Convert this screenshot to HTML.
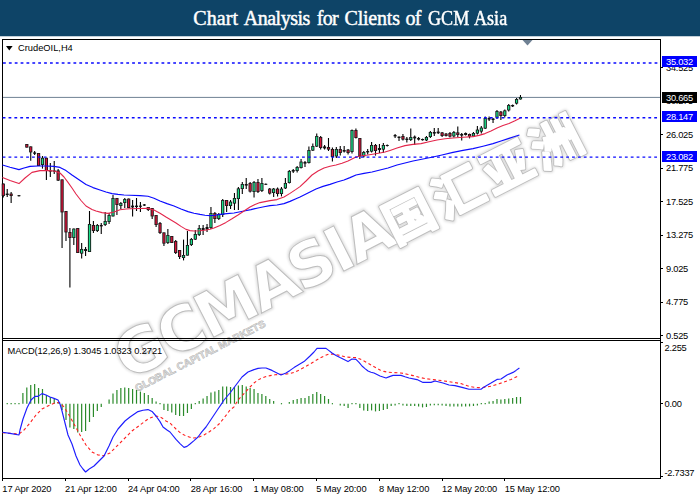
<!DOCTYPE html>
<html lang="en"><head><meta charset="utf-8"><title>Chart Analysis for Clients of GCM Asia</title>
<style>
html,body{margin:0;padding:0;background:#fff;}
body{width:700px;height:500px;overflow:hidden;position:relative;font-family:"Liberation Sans","Noto Sans CJK SC",sans-serif;}
#hdr{position:absolute;left:0;top:0;width:700px;height:36px;background:#0e4467;color:#fff;
 font-family:"Liberation Serif","Noto Serif CJK SC",serif;font-size:20px;line-height:36px;text-align:center;white-space:nowrap;}
#hdr span{position:absolute;top:0;display:inline-block;transform-origin:0 0;-webkit-text-stroke:0.45px #fff;}
svg{position:absolute;left:0;top:0;}
svg text{font-family:"Liberation Sans","Noto Sans CJK SC",sans-serif;}
.ax{font-size:9.3px;fill:#000;}
.pr{letter-spacing:-0.25px;}
.dt{letter-spacing:-0.09px;}
.lb{font-size:9.3px;fill:#fff;}
</style></head><body>
<div id="hdr"><span style="left:193.30px;letter-spacing:0.10px">Chart</span> <span style="left:243.80px;letter-spacing:-0.50px">Analysis</span> <span style="left:316.70px;letter-spacing:-0.70px">for</span> <span style="left:344.50px;letter-spacing:-0.20px">Clients</span> <span style="left:405.40px;letter-spacing:-0.70px">of</span> <span style="left:427.90px;letter-spacing:0.00px;transform:scaleX(0.905)">GCM</span> <span style="left:473.60px;letter-spacing:0.00px;transform:scaleX(0.905)">Asia</span></div>
<svg width="700" height="500" viewBox="0 0 700 500">
<rect x="0" y="30" width="700" height="6.25" fill="#0e4467"/>
<defs><filter id="bl" x="-5%" y="-20%" width="110%" height="140%"><feGaussianBlur stdDeviation="0.9"/></filter></defs>
<g transform="translate(128,381) rotate(-27)" fill="none" stroke="#dedede" filter="url(#bl)"><g stroke-width="3"><text x="0" y="0" font-size="61.7" letter-spacing="-2.6" font-weight="bold" style="font-family:'DejaVu Sans','Noto Sans CJK SC',sans-serif">GCMASIA</text></g><g stroke-width="5.5" stroke-linejoin="round" stroke-linecap="round"><text x="300" y="0" font-size="50" letter-spacing="5" font-weight="700" style="font-family:'Liberation Sans','Noto Sans CJK SC',sans-serif">国汇亚洲</text></g></g>
<g id="wm" transform="translate(128,381) rotate(-27)" fill="#fff" stroke="#bdbdbd" stroke-width="1"><text x="0" y="0" font-size="61.7" letter-spacing="-2.6" font-weight="bold" style="font-family:'DejaVu Sans','Noto Sans CJK SC',sans-serif">GCMASIA</text></g>
<g transform="translate(128,381) rotate(-27)" fill="#bdbdbd" stroke="#bdbdbd" stroke-width="3.8" stroke-linejoin="round" stroke-linecap="round"><text x="300" y="0" font-size="50" letter-spacing="5" font-weight="700" style="font-family:'Liberation Sans','Noto Sans CJK SC',sans-serif">国汇亚洲</text></g>
<g transform="translate(128,381) rotate(-27)" fill="#fff" stroke="#fff" stroke-width="2.0" stroke-linejoin="round" stroke-linecap="round"><text x="300" y="0" font-size="50" letter-spacing="5" font-weight="700" style="font-family:'Liberation Sans','Noto Sans CJK SC',sans-serif">国汇亚洲</text></g>
<g transform="translate(137.3,392) rotate(-27)"><text x="0" y="0" font-size="10.4" font-weight="bold" fill="#e6e6e6" stroke="#b4b4b4" stroke-width="0.55">GLOBAL CAPITAL MARKETS</text></g>
<g shape-rendering="crispEdges" fill="#000">
<rect x="2" y="39" width="659" height="1"/>
<rect x="2" y="39" width="1" height="440"/>
<rect x="660" y="39" width="1" height="440"/>
<rect x="2" y="338" width="659" height="1"/>
<rect x="2" y="340" width="659" height="1"/>
<rect x="2" y="478" width="659" height="1"/>
<rect x="661" y="67" width="2" height="1"/>
<rect x="661" y="134" width="2" height="1"/>
<rect x="661" y="168" width="2" height="1"/>
<rect x="661" y="201" width="2" height="1"/>
<rect x="661" y="235" width="2" height="1"/>
<rect x="661" y="268" width="2" height="1"/>
<rect x="661" y="302" width="2" height="1"/>
<rect x="661" y="335" width="2" height="1"/>
<rect x="661" y="342" width="2" height="1"/>
<rect x="661" y="403" width="2" height="1"/>
<rect x="661" y="476" width="2" height="1"/>
<rect x="2" y="479" width="1" height="2"/>
<rect x="65" y="479" width="1" height="2"/>
<rect x="128" y="479" width="1" height="2"/>
<rect x="190" y="479" width="1" height="2"/>
<rect x="253" y="479" width="1" height="2"/>
<rect x="316" y="479" width="1" height="2"/>
<rect x="379" y="479" width="1" height="2"/>
<rect x="442" y="479" width="1" height="2"/>
<rect x="504" y="479" width="1" height="2"/>
</g>
<polygon points="522.5,40 532.5,40 527.5,45.5" fill="#6f8193"/>
<line x1="3" y1="97.4" x2="660" y2="97.4" stroke="#6f8193" stroke-width="1"/>
<g id="candles">
<line x1="3.30" y1="183.6" x2="3.30" y2="197.6" stroke="#000" stroke-width="1.1"/>
<rect x="1.70" y="183.6" width="3.2" height="12.4" fill="#161616"/>
<rect x="2.60" y="184.4" width="1.4" height="10.8" fill="#d9143a"/>
<line x1="7.22" y1="189.0" x2="7.22" y2="197.0" stroke="#000" stroke-width="1.1"/>
<rect x="5.72" y="193.6" width="3" height="1.4" fill="#111"/>
<line x1="11.14" y1="192.0" x2="11.14" y2="203.0" stroke="#000" stroke-width="1.1"/>
<rect x="9.54" y="193.6" width="3.2" height="2.4" fill="#161616"/>
<rect x="10.44" y="194.4" width="1.4" height="0.8" fill="#d9143a"/>
<line x1="18.97" y1="195.0" x2="18.97" y2="196.4" stroke="#000" stroke-width="1.1"/>
<rect x="17.47" y="195.2" width="3" height="1.0" fill="#111"/>
<line x1="26.81" y1="144.0" x2="26.81" y2="147.6" stroke="#000" stroke-width="1.1"/>
<rect x="25.21" y="144.0" width="3.2" height="3.6" fill="#161616"/>
<rect x="26.11" y="144.8" width="1.4" height="2.0" fill="#d9143a"/>
<line x1="30.73" y1="146.4" x2="30.73" y2="160.8" stroke="#000" stroke-width="1.1"/>
<rect x="29.13" y="146.4" width="3.2" height="6.0" fill="#161616"/>
<rect x="30.03" y="147.2" width="1.4" height="4.4" fill="#d9143a"/>
<line x1="34.64" y1="151.0" x2="34.64" y2="155.0" stroke="#000" stroke-width="1.1"/>
<rect x="33.14" y="152.4" width="3" height="1.4" fill="#111"/>
<line x1="38.56" y1="153.0" x2="38.56" y2="166.0" stroke="#000" stroke-width="1.1"/>
<rect x="36.96" y="153.0" width="3.2" height="13.0" fill="#161616"/>
<rect x="37.86" y="153.8" width="1.4" height="11.4" fill="#d9143a"/>
<line x1="42.48" y1="156.0" x2="42.48" y2="168.6" stroke="#000" stroke-width="1.1"/>
<rect x="40.88" y="157.8" width="3.2" height="7.2" fill="#161616"/>
<rect x="41.78" y="158.6" width="1.4" height="5.6" fill="#19e08a"/>
<line x1="46.40" y1="157.8" x2="46.40" y2="180.0" stroke="#000" stroke-width="1.1"/>
<rect x="44.80" y="157.8" width="3.2" height="13.2" fill="#161616"/>
<rect x="45.70" y="158.6" width="1.4" height="11.6" fill="#d9143a"/>
<line x1="50.32" y1="163.0" x2="50.32" y2="177.0" stroke="#000" stroke-width="1.1"/>
<rect x="48.82" y="170.4" width="3" height="1.2" fill="#111"/>
<line x1="54.23" y1="161.0" x2="54.23" y2="174.0" stroke="#000" stroke-width="1.1"/>
<rect x="52.73" y="170.4" width="3" height="1.2" fill="#111"/>
<line x1="58.15" y1="169.0" x2="58.15" y2="181.0" stroke="#000" stroke-width="1.1"/>
<rect x="56.55" y="170.4" width="3.2" height="10.2" fill="#161616"/>
<rect x="57.45" y="171.2" width="1.4" height="8.6" fill="#d9143a"/>
<line x1="62.07" y1="179.4" x2="62.07" y2="248.0" stroke="#000" stroke-width="1.1"/>
<rect x="60.47" y="179.4" width="3.2" height="33.0" fill="#161616"/>
<rect x="61.37" y="180.2" width="1.4" height="31.4" fill="#d9143a"/>
<line x1="65.99" y1="211.0" x2="65.99" y2="241.0" stroke="#000" stroke-width="1.1"/>
<rect x="64.39" y="211.0" width="3.2" height="21.4" fill="#161616"/>
<rect x="65.29" y="211.8" width="1.4" height="19.8" fill="#d9143a"/>
<line x1="69.91" y1="228.0" x2="69.91" y2="287.6" stroke="#000" stroke-width="1.1"/>
<rect x="68.31" y="232.0" width="3.2" height="6.0" fill="#161616"/>
<rect x="69.21" y="232.8" width="1.4" height="4.4" fill="#d9143a"/>
<line x1="73.82" y1="228.6" x2="73.82" y2="245.0" stroke="#000" stroke-width="1.1"/>
<rect x="72.22" y="228.6" width="3.2" height="9.4" fill="#161616"/>
<rect x="73.12" y="229.4" width="1.4" height="7.8" fill="#19e08a"/>
<line x1="77.74" y1="228.0" x2="77.74" y2="253.0" stroke="#000" stroke-width="1.1"/>
<rect x="76.14" y="228.0" width="3.2" height="25.0" fill="#161616"/>
<rect x="77.04" y="228.8" width="1.4" height="23.4" fill="#d9143a"/>
<line x1="81.66" y1="243.0" x2="81.66" y2="258.6" stroke="#000" stroke-width="1.1"/>
<rect x="80.06" y="249.0" width="3.2" height="4.6" fill="#161616"/>
<rect x="80.96" y="249.8" width="1.4" height="3.0" fill="#19e08a"/>
<line x1="85.58" y1="247.0" x2="85.58" y2="256.0" stroke="#000" stroke-width="1.1"/>
<rect x="84.08" y="249.0" width="3" height="2.0" fill="#111"/>
<line x1="89.50" y1="211.0" x2="89.50" y2="252.0" stroke="#000" stroke-width="1.1"/>
<rect x="87.90" y="224.0" width="3.2" height="28.0" fill="#161616"/>
<rect x="88.80" y="224.8" width="1.4" height="26.4" fill="#19e08a"/>
<line x1="93.41" y1="221.0" x2="93.41" y2="233.0" stroke="#000" stroke-width="1.1"/>
<rect x="91.81" y="225.0" width="3.2" height="6.0" fill="#161616"/>
<rect x="92.71" y="225.8" width="1.4" height="4.4" fill="#d9143a"/>
<line x1="97.33" y1="224.0" x2="97.33" y2="232.0" stroke="#000" stroke-width="1.1"/>
<rect x="95.73" y="225.0" width="3.2" height="6.0" fill="#161616"/>
<rect x="96.63" y="225.8" width="1.4" height="4.4" fill="#19e08a"/>
<line x1="101.25" y1="223.0" x2="101.25" y2="234.0" stroke="#000" stroke-width="1.1"/>
<rect x="99.75" y="225.0" width="3" height="1.4" fill="#111"/>
<line x1="105.17" y1="212.0" x2="105.17" y2="226.0" stroke="#000" stroke-width="1.1"/>
<rect x="103.57" y="221.0" width="3.2" height="4.0" fill="#161616"/>
<rect x="104.47" y="221.8" width="1.4" height="2.4" fill="#19e08a"/>
<line x1="109.09" y1="213.0" x2="109.09" y2="224.0" stroke="#000" stroke-width="1.1"/>
<rect x="107.49" y="215.0" width="3.2" height="7.0" fill="#161616"/>
<rect x="108.39" y="215.8" width="1.4" height="5.4" fill="#19e08a"/>
<line x1="113.00" y1="195.0" x2="113.00" y2="216.4" stroke="#000" stroke-width="1.1"/>
<rect x="111.40" y="198.0" width="3.2" height="18.4" fill="#161616"/>
<rect x="112.30" y="198.8" width="1.4" height="16.8" fill="#19e08a"/>
<line x1="116.92" y1="198.0" x2="116.92" y2="215.0" stroke="#000" stroke-width="1.1"/>
<rect x="115.32" y="198.0" width="3.2" height="7.0" fill="#161616"/>
<rect x="116.22" y="198.8" width="1.4" height="5.4" fill="#d9143a"/>
<line x1="120.84" y1="202.0" x2="120.84" y2="209.0" stroke="#000" stroke-width="1.1"/>
<rect x="119.24" y="203.0" width="3.2" height="3.0" fill="#161616"/>
<rect x="120.14" y="203.8" width="1.4" height="1.4" fill="#19e08a"/>
<line x1="124.76" y1="198.0" x2="124.76" y2="208.0" stroke="#000" stroke-width="1.1"/>
<rect x="123.16" y="199.0" width="3.2" height="4.0" fill="#161616"/>
<rect x="124.06" y="199.8" width="1.4" height="2.4" fill="#19e08a"/>
<line x1="128.68" y1="198.6" x2="128.68" y2="208.0" stroke="#000" stroke-width="1.1"/>
<rect x="127.08" y="198.6" width="3.2" height="9.4" fill="#161616"/>
<rect x="127.98" y="199.4" width="1.4" height="7.8" fill="#d9143a"/>
<line x1="132.59" y1="200.0" x2="132.59" y2="216.4" stroke="#000" stroke-width="1.1"/>
<rect x="131.09" y="205.6" width="3" height="1.8" fill="#111"/>
<line x1="136.51" y1="198.0" x2="136.51" y2="211.0" stroke="#000" stroke-width="1.1"/>
<rect x="135.01" y="205.6" width="3" height="1.4" fill="#111"/>
<line x1="140.43" y1="202.0" x2="140.43" y2="212.0" stroke="#000" stroke-width="1.1"/>
<rect x="138.93" y="205.6" width="3" height="1.2" fill="#111"/>
<line x1="144.35" y1="204.0" x2="144.35" y2="206.0" stroke="#000" stroke-width="1.1"/>
<rect x="142.85" y="204.4" width="3" height="1.2" fill="#111"/>
<line x1="148.27" y1="207.0" x2="148.27" y2="211.0" stroke="#000" stroke-width="1.1"/>
<rect x="146.67" y="207.0" width="3.2" height="3.0" fill="#161616"/>
<rect x="147.57" y="207.8" width="1.4" height="1.4" fill="#d9143a"/>
<line x1="152.18" y1="208.0" x2="152.18" y2="219.0" stroke="#000" stroke-width="1.1"/>
<rect x="150.58" y="208.0" width="3.2" height="8.4" fill="#161616"/>
<rect x="151.48" y="208.8" width="1.4" height="6.8" fill="#d9143a"/>
<line x1="156.10" y1="215.0" x2="156.10" y2="227.0" stroke="#000" stroke-width="1.1"/>
<rect x="154.50" y="215.0" width="3.2" height="10.0" fill="#161616"/>
<rect x="155.40" y="215.8" width="1.4" height="8.4" fill="#d9143a"/>
<line x1="160.02" y1="222.0" x2="160.02" y2="234.0" stroke="#000" stroke-width="1.1"/>
<rect x="158.42" y="223.0" width="3.2" height="10.0" fill="#161616"/>
<rect x="159.32" y="223.8" width="1.4" height="8.4" fill="#d9143a"/>
<line x1="163.94" y1="232.4" x2="163.94" y2="246.0" stroke="#000" stroke-width="1.1"/>
<rect x="162.34" y="232.4" width="3.2" height="11.2" fill="#161616"/>
<rect x="163.24" y="233.2" width="1.4" height="9.6" fill="#d9143a"/>
<line x1="167.86" y1="229.0" x2="167.86" y2="244.0" stroke="#000" stroke-width="1.1"/>
<rect x="166.26" y="235.0" width="3.2" height="8.0" fill="#161616"/>
<rect x="167.16" y="235.8" width="1.4" height="6.4" fill="#19e08a"/>
<line x1="171.77" y1="236.0" x2="171.77" y2="243.0" stroke="#000" stroke-width="1.1"/>
<rect x="170.17" y="236.0" width="3.2" height="7.0" fill="#161616"/>
<rect x="171.07" y="236.8" width="1.4" height="5.4" fill="#d9143a"/>
<line x1="175.69" y1="240.0" x2="175.69" y2="254.0" stroke="#000" stroke-width="1.1"/>
<rect x="174.09" y="241.0" width="3.2" height="12.0" fill="#161616"/>
<rect x="174.99" y="241.8" width="1.4" height="10.4" fill="#d9143a"/>
<line x1="179.61" y1="250.0" x2="179.61" y2="259.0" stroke="#000" stroke-width="1.1"/>
<rect x="178.01" y="250.0" width="3.2" height="7.0" fill="#161616"/>
<rect x="178.91" y="250.8" width="1.4" height="5.4" fill="#d9143a"/>
<line x1="183.53" y1="239.6" x2="183.53" y2="260.4" stroke="#000" stroke-width="1.1"/>
<rect x="181.93" y="255.0" width="3.2" height="3.0" fill="#161616"/>
<rect x="182.83" y="255.8" width="1.4" height="1.4" fill="#19e08a"/>
<line x1="187.45" y1="231.0" x2="187.45" y2="255.6" stroke="#000" stroke-width="1.1"/>
<rect x="185.85" y="245.0" width="3.2" height="10.6" fill="#161616"/>
<rect x="186.75" y="245.8" width="1.4" height="9.0" fill="#19e08a"/>
<line x1="191.36" y1="238.0" x2="191.36" y2="246.0" stroke="#000" stroke-width="1.1"/>
<rect x="189.76" y="239.0" width="3.2" height="6.0" fill="#161616"/>
<rect x="190.66" y="239.8" width="1.4" height="4.4" fill="#19e08a"/>
<line x1="195.28" y1="230.0" x2="195.28" y2="240.0" stroke="#000" stroke-width="1.1"/>
<rect x="193.68" y="234.0" width="3.2" height="5.6" fill="#161616"/>
<rect x="194.58" y="234.8" width="1.4" height="4.0" fill="#19e08a"/>
<line x1="199.20" y1="225.0" x2="199.20" y2="236.0" stroke="#000" stroke-width="1.1"/>
<rect x="197.60" y="228.0" width="3.2" height="7.0" fill="#161616"/>
<rect x="198.50" y="228.8" width="1.4" height="5.4" fill="#19e08a"/>
<line x1="203.12" y1="225.0" x2="203.12" y2="235.0" stroke="#000" stroke-width="1.1"/>
<rect x="201.62" y="228.0" width="3" height="2.0" fill="#111"/>
<line x1="207.04" y1="224.0" x2="207.04" y2="232.0" stroke="#000" stroke-width="1.1"/>
<rect x="205.54" y="227.0" width="3" height="2.6" fill="#111"/>
<line x1="210.95" y1="207.0" x2="210.95" y2="229.0" stroke="#000" stroke-width="1.1"/>
<rect x="209.35" y="213.0" width="3.2" height="15.0" fill="#161616"/>
<rect x="210.25" y="213.8" width="1.4" height="13.4" fill="#19e08a"/>
<line x1="214.87" y1="212.0" x2="214.87" y2="223.0" stroke="#000" stroke-width="1.1"/>
<rect x="213.27" y="213.0" width="3.2" height="6.0" fill="#161616"/>
<rect x="214.17" y="213.8" width="1.4" height="4.4" fill="#d9143a"/>
<line x1="218.79" y1="213.0" x2="218.79" y2="220.0" stroke="#000" stroke-width="1.1"/>
<rect x="217.19" y="214.0" width="3.2" height="5.0" fill="#161616"/>
<rect x="218.09" y="214.8" width="1.4" height="3.4" fill="#19e08a"/>
<line x1="222.71" y1="199.0" x2="222.71" y2="217.0" stroke="#000" stroke-width="1.1"/>
<rect x="221.11" y="200.0" width="3.2" height="15.0" fill="#161616"/>
<rect x="222.01" y="200.8" width="1.4" height="13.4" fill="#19e08a"/>
<line x1="226.63" y1="200.0" x2="226.63" y2="212.0" stroke="#000" stroke-width="1.1"/>
<rect x="225.03" y="200.0" width="3.2" height="6.0" fill="#161616"/>
<rect x="225.93" y="200.8" width="1.4" height="4.4" fill="#d9143a"/>
<line x1="230.54" y1="200.0" x2="230.54" y2="209.0" stroke="#000" stroke-width="1.1"/>
<rect x="228.94" y="201.6" width="3.2" height="4.4" fill="#161616"/>
<rect x="229.84" y="202.4" width="1.4" height="2.8" fill="#19e08a"/>
<line x1="234.46" y1="193.0" x2="234.46" y2="210.0" stroke="#000" stroke-width="1.1"/>
<rect x="232.86" y="198.0" width="3.2" height="5.6" fill="#161616"/>
<rect x="233.76" y="198.8" width="1.4" height="4.0" fill="#19e08a"/>
<line x1="238.38" y1="187.0" x2="238.38" y2="210.0" stroke="#000" stroke-width="1.1"/>
<rect x="236.78" y="188.4" width="3.2" height="10.6" fill="#161616"/>
<rect x="237.68" y="189.2" width="1.4" height="9.0" fill="#19e08a"/>
<line x1="242.30" y1="182.0" x2="242.30" y2="194.0" stroke="#000" stroke-width="1.1"/>
<rect x="240.70" y="184.0" width="3.2" height="5.0" fill="#161616"/>
<rect x="241.60" y="184.8" width="1.4" height="3.4" fill="#19e08a"/>
<line x1="246.22" y1="178.0" x2="246.22" y2="189.0" stroke="#000" stroke-width="1.1"/>
<rect x="244.72" y="184.0" width="3" height="1.6" fill="#111"/>
<line x1="250.13" y1="182.0" x2="250.13" y2="192.4" stroke="#000" stroke-width="1.1"/>
<rect x="248.53" y="183.0" width="3.2" height="8.6" fill="#161616"/>
<rect x="249.43" y="183.8" width="1.4" height="7.0" fill="#d9143a"/>
<line x1="254.05" y1="181.0" x2="254.05" y2="197.6" stroke="#000" stroke-width="1.1"/>
<rect x="252.45" y="182.0" width="3.2" height="10.0" fill="#161616"/>
<rect x="253.35" y="182.8" width="1.4" height="8.4" fill="#19e08a"/>
<line x1="257.97" y1="179.0" x2="257.97" y2="193.0" stroke="#000" stroke-width="1.1"/>
<rect x="256.37" y="182.0" width="3.2" height="10.0" fill="#161616"/>
<rect x="257.27" y="182.8" width="1.4" height="8.4" fill="#d9143a"/>
<line x1="261.89" y1="178.0" x2="261.89" y2="192.0" stroke="#000" stroke-width="1.1"/>
<rect x="260.29" y="183.0" width="3.2" height="8.0" fill="#161616"/>
<rect x="261.19" y="183.8" width="1.4" height="6.4" fill="#19e08a"/>
<line x1="265.81" y1="183.6" x2="265.81" y2="185.0" stroke="#000" stroke-width="1.1"/>
<rect x="264.31" y="183.8" width="3" height="1.0" fill="#111"/>
<line x1="269.72" y1="188.0" x2="269.72" y2="194.4" stroke="#000" stroke-width="1.1"/>
<rect x="268.12" y="188.6" width="3.2" height="5.0" fill="#161616"/>
<rect x="269.02" y="189.4" width="1.4" height="3.4" fill="#d9143a"/>
<line x1="273.64" y1="188.0" x2="273.64" y2="197.0" stroke="#000" stroke-width="1.1"/>
<rect x="272.04" y="188.6" width="3.2" height="4.4" fill="#161616"/>
<rect x="272.94" y="189.4" width="1.4" height="2.8" fill="#19e08a"/>
<line x1="277.56" y1="187.6" x2="277.56" y2="196.4" stroke="#000" stroke-width="1.1"/>
<rect x="275.96" y="188.6" width="3.2" height="5.4" fill="#161616"/>
<rect x="276.86" y="189.4" width="1.4" height="3.8" fill="#d9143a"/>
<line x1="281.48" y1="187.0" x2="281.48" y2="196.4" stroke="#000" stroke-width="1.1"/>
<rect x="279.88" y="188.6" width="3.2" height="5.4" fill="#161616"/>
<rect x="280.78" y="189.4" width="1.4" height="3.8" fill="#19e08a"/>
<line x1="285.40" y1="178.0" x2="285.40" y2="189.0" stroke="#000" stroke-width="1.1"/>
<rect x="283.80" y="183.0" width="3.2" height="5.4" fill="#161616"/>
<rect x="284.70" y="183.8" width="1.4" height="3.8" fill="#19e08a"/>
<line x1="289.31" y1="170.0" x2="289.31" y2="183.6" stroke="#000" stroke-width="1.1"/>
<rect x="287.71" y="171.0" width="3.2" height="12.0" fill="#161616"/>
<rect x="288.61" y="171.8" width="1.4" height="10.4" fill="#19e08a"/>
<line x1="293.23" y1="169.0" x2="293.23" y2="173.0" stroke="#000" stroke-width="1.1"/>
<rect x="291.73" y="170.0" width="3" height="1.6" fill="#111"/>
<line x1="297.15" y1="166.0" x2="297.15" y2="172.4" stroke="#000" stroke-width="1.1"/>
<rect x="295.55" y="167.0" width="3.2" height="4.0" fill="#161616"/>
<rect x="296.45" y="167.8" width="1.4" height="2.4" fill="#19e08a"/>
<line x1="301.07" y1="159.0" x2="301.07" y2="168.6" stroke="#000" stroke-width="1.1"/>
<rect x="299.47" y="161.6" width="3.2" height="6.4" fill="#161616"/>
<rect x="300.37" y="162.4" width="1.4" height="4.8" fill="#19e08a"/>
<line x1="304.99" y1="161.0" x2="304.99" y2="167.0" stroke="#000" stroke-width="1.1"/>
<rect x="303.49" y="162.0" width="3" height="1.6" fill="#111"/>
<line x1="308.90" y1="146.6" x2="308.90" y2="163.6" stroke="#000" stroke-width="1.1"/>
<rect x="307.30" y="150.0" width="3.2" height="13.0" fill="#161616"/>
<rect x="308.20" y="150.8" width="1.4" height="11.4" fill="#19e08a"/>
<line x1="312.82" y1="143.6" x2="312.82" y2="151.0" stroke="#000" stroke-width="1.1"/>
<rect x="311.22" y="146.0" width="3.2" height="4.6" fill="#161616"/>
<rect x="312.12" y="146.8" width="1.4" height="3.0" fill="#19e08a"/>
<line x1="316.74" y1="133.6" x2="316.74" y2="147.0" stroke="#000" stroke-width="1.1"/>
<rect x="315.14" y="136.0" width="3.2" height="10.6" fill="#161616"/>
<rect x="316.04" y="136.8" width="1.4" height="9.0" fill="#19e08a"/>
<line x1="320.66" y1="136.0" x2="320.66" y2="149.4" stroke="#000" stroke-width="1.1"/>
<rect x="319.06" y="137.0" width="3.2" height="11.0" fill="#161616"/>
<rect x="319.96" y="137.8" width="1.4" height="9.4" fill="#d9143a"/>
<line x1="324.58" y1="145.0" x2="324.58" y2="149.6" stroke="#000" stroke-width="1.1"/>
<rect x="323.08" y="146.4" width="3" height="2.0" fill="#111"/>
<line x1="328.49" y1="138.0" x2="328.49" y2="151.0" stroke="#000" stroke-width="1.1"/>
<rect x="326.89" y="147.0" width="3.2" height="2.6" fill="#161616"/>
<rect x="327.79" y="147.8" width="1.4" height="1.0" fill="#d9143a"/>
<line x1="332.41" y1="147.6" x2="332.41" y2="161.6" stroke="#000" stroke-width="1.1"/>
<rect x="330.81" y="149.0" width="3.2" height="8.0" fill="#161616"/>
<rect x="331.71" y="149.8" width="1.4" height="6.4" fill="#d9143a"/>
<line x1="336.33" y1="147.0" x2="336.33" y2="158.0" stroke="#000" stroke-width="1.1"/>
<rect x="334.73" y="149.0" width="3.2" height="7.4" fill="#161616"/>
<rect x="335.63" y="149.8" width="1.4" height="5.8" fill="#19e08a"/>
<line x1="340.25" y1="146.0" x2="340.25" y2="155.6" stroke="#000" stroke-width="1.1"/>
<rect x="338.65" y="149.0" width="3.2" height="4.0" fill="#161616"/>
<rect x="339.55" y="149.8" width="1.4" height="2.4" fill="#d9143a"/>
<line x1="344.17" y1="146.0" x2="344.17" y2="152.4" stroke="#000" stroke-width="1.1"/>
<rect x="342.67" y="150.0" width="3" height="1.6" fill="#111"/>
<line x1="348.08" y1="149.0" x2="348.08" y2="154.4" stroke="#000" stroke-width="1.1"/>
<rect x="346.48" y="149.6" width="3.2" height="3.4" fill="#161616"/>
<rect x="347.38" y="150.4" width="1.4" height="1.8" fill="#d9143a"/>
<line x1="352.00" y1="129.4" x2="352.00" y2="153.6" stroke="#000" stroke-width="1.1"/>
<rect x="350.40" y="130.0" width="3.2" height="22.0" fill="#161616"/>
<rect x="351.30" y="130.8" width="1.4" height="20.4" fill="#19e08a"/>
<line x1="355.92" y1="128.4" x2="355.92" y2="138.6" stroke="#000" stroke-width="1.1"/>
<rect x="354.32" y="130.0" width="3.2" height="8.0" fill="#161616"/>
<rect x="355.22" y="130.8" width="1.4" height="6.4" fill="#d9143a"/>
<line x1="359.84" y1="138.0" x2="359.84" y2="159.0" stroke="#000" stroke-width="1.1"/>
<rect x="358.24" y="138.0" width="3.2" height="18.4" fill="#161616"/>
<rect x="359.14" y="138.8" width="1.4" height="16.8" fill="#d9143a"/>
<line x1="363.76" y1="151.0" x2="363.76" y2="157.6" stroke="#000" stroke-width="1.1"/>
<rect x="362.16" y="152.0" width="3.2" height="4.4" fill="#161616"/>
<rect x="363.06" y="152.8" width="1.4" height="2.8" fill="#19e08a"/>
<line x1="367.67" y1="149.0" x2="367.67" y2="154.4" stroke="#000" stroke-width="1.1"/>
<rect x="366.17" y="151.0" width="3" height="1.4" fill="#111"/>
<line x1="371.59" y1="142.0" x2="371.59" y2="152.4" stroke="#000" stroke-width="1.1"/>
<rect x="369.99" y="145.0" width="3.2" height="6.6" fill="#161616"/>
<rect x="370.89" y="145.8" width="1.4" height="5.0" fill="#19e08a"/>
<line x1="375.51" y1="144.0" x2="375.51" y2="155.6" stroke="#000" stroke-width="1.1"/>
<rect x="373.91" y="145.0" width="3.2" height="6.0" fill="#161616"/>
<rect x="374.81" y="145.8" width="1.4" height="4.4" fill="#d9143a"/>
<line x1="379.43" y1="144.0" x2="379.43" y2="153.0" stroke="#000" stroke-width="1.1"/>
<rect x="377.93" y="148.0" width="3" height="2.0" fill="#111"/>
<line x1="383.35" y1="143.0" x2="383.35" y2="153.0" stroke="#000" stroke-width="1.1"/>
<rect x="381.75" y="145.0" width="3.2" height="4.6" fill="#161616"/>
<rect x="382.65" y="145.8" width="1.4" height="3.0" fill="#19e08a"/>
<line x1="387.26" y1="144.4" x2="387.26" y2="146.4" stroke="#000" stroke-width="1.1"/>
<rect x="385.76" y="145.0" width="3" height="1.0" fill="#111"/>
<line x1="395.10" y1="134.0" x2="395.10" y2="138.0" stroke="#000" stroke-width="1.1"/>
<rect x="393.60" y="135.0" width="3" height="1.4" fill="#111"/>
<line x1="399.02" y1="136.6" x2="399.02" y2="141.0" stroke="#000" stroke-width="1.1"/>
<rect x="397.52" y="136.6" width="3" height="1.4" fill="#111"/>
<line x1="402.94" y1="134.0" x2="402.94" y2="140.4" stroke="#000" stroke-width="1.1"/>
<rect x="401.34" y="136.0" width="3.2" height="3.6" fill="#161616"/>
<rect x="402.24" y="136.8" width="1.4" height="2.0" fill="#d9143a"/>
<line x1="406.85" y1="137.0" x2="406.85" y2="142.4" stroke="#000" stroke-width="1.1"/>
<rect x="405.35" y="138.6" width="3" height="1.4" fill="#111"/>
<line x1="410.77" y1="128.6" x2="410.77" y2="141.0" stroke="#000" stroke-width="1.1"/>
<rect x="409.17" y="137.0" width="3.2" height="3.0" fill="#161616"/>
<rect x="410.07" y="137.8" width="1.4" height="1.4" fill="#19e08a"/>
<line x1="414.69" y1="135.6" x2="414.69" y2="145.0" stroke="#000" stroke-width="1.1"/>
<rect x="413.19" y="136.6" width="3" height="1.8" fill="#111"/>
<line x1="418.61" y1="137.0" x2="418.61" y2="140.4" stroke="#000" stroke-width="1.1"/>
<rect x="417.11" y="138.0" width="3" height="1.6" fill="#111"/>
<line x1="422.53" y1="138.6" x2="422.53" y2="140.6" stroke="#000" stroke-width="1.1"/>
<rect x="421.03" y="139.0" width="3" height="1.2" fill="#111"/>
<line x1="426.44" y1="136.0" x2="426.44" y2="141.0" stroke="#000" stroke-width="1.1"/>
<rect x="424.84" y="137.0" width="3.2" height="3.4" fill="#161616"/>
<rect x="425.74" y="137.8" width="1.4" height="1.8" fill="#19e08a"/>
<line x1="430.36" y1="131.0" x2="430.36" y2="138.0" stroke="#000" stroke-width="1.1"/>
<rect x="428.76" y="132.0" width="3.2" height="5.0" fill="#161616"/>
<rect x="429.66" y="132.8" width="1.4" height="3.4" fill="#19e08a"/>
<line x1="434.28" y1="128.0" x2="434.28" y2="136.0" stroke="#000" stroke-width="1.1"/>
<rect x="432.78" y="132.0" width="3" height="1.6" fill="#111"/>
<line x1="438.20" y1="128.0" x2="438.20" y2="134.0" stroke="#000" stroke-width="1.1"/>
<rect x="436.70" y="131.6" width="3" height="1.6" fill="#111"/>
<line x1="442.12" y1="132.0" x2="442.12" y2="137.0" stroke="#000" stroke-width="1.1"/>
<rect x="440.52" y="132.4" width="3.2" height="3.6" fill="#161616"/>
<rect x="441.42" y="133.2" width="1.4" height="2.0" fill="#d9143a"/>
<line x1="446.03" y1="133.0" x2="446.03" y2="136.6" stroke="#000" stroke-width="1.1"/>
<rect x="444.43" y="133.6" width="3.2" height="2.4" fill="#161616"/>
<rect x="445.33" y="134.4" width="1.4" height="0.8" fill="#d9143a"/>
<line x1="449.95" y1="132.0" x2="449.95" y2="137.6" stroke="#000" stroke-width="1.1"/>
<rect x="448.35" y="133.0" width="3.2" height="3.6" fill="#161616"/>
<rect x="449.25" y="133.8" width="1.4" height="2.0" fill="#d9143a"/>
<line x1="453.87" y1="131.0" x2="453.87" y2="137.6" stroke="#000" stroke-width="1.1"/>
<rect x="452.27" y="132.0" width="3.2" height="4.4" fill="#161616"/>
<rect x="453.17" y="132.8" width="1.4" height="2.8" fill="#19e08a"/>
<line x1="457.79" y1="126.4" x2="457.79" y2="137.0" stroke="#000" stroke-width="1.1"/>
<rect x="456.19" y="132.4" width="3.2" height="2.6" fill="#161616"/>
<rect x="457.09" y="133.2" width="1.4" height="1.0" fill="#d9143a"/>
<line x1="461.71" y1="133.0" x2="461.71" y2="140.6" stroke="#000" stroke-width="1.1"/>
<rect x="460.21" y="134.0" width="3" height="1.6" fill="#111"/>
<line x1="465.62" y1="132.4" x2="465.62" y2="135.4" stroke="#000" stroke-width="1.1"/>
<rect x="464.12" y="133.0" width="3" height="2.0" fill="#111"/>
<line x1="469.54" y1="133.6" x2="469.54" y2="138.4" stroke="#000" stroke-width="1.1"/>
<rect x="467.94" y="134.0" width="3.2" height="2.6" fill="#161616"/>
<rect x="468.84" y="134.8" width="1.4" height="1.0" fill="#d9143a"/>
<line x1="473.46" y1="132.0" x2="473.46" y2="137.0" stroke="#000" stroke-width="1.1"/>
<rect x="471.86" y="133.0" width="3.2" height="3.4" fill="#161616"/>
<rect x="472.76" y="133.8" width="1.4" height="1.8" fill="#19e08a"/>
<line x1="477.38" y1="126.0" x2="477.38" y2="134.4" stroke="#000" stroke-width="1.1"/>
<rect x="475.78" y="129.6" width="3.2" height="4.0" fill="#161616"/>
<rect x="476.68" y="130.4" width="1.4" height="2.4" fill="#19e08a"/>
<line x1="481.30" y1="126.0" x2="481.30" y2="133.6" stroke="#000" stroke-width="1.1"/>
<rect x="479.70" y="127.6" width="3.2" height="4.0" fill="#161616"/>
<rect x="480.60" y="128.4" width="1.4" height="2.4" fill="#19e08a"/>
<line x1="485.21" y1="116.6" x2="485.21" y2="129.0" stroke="#000" stroke-width="1.1"/>
<rect x="483.61" y="118.0" width="3.2" height="10.6" fill="#161616"/>
<rect x="484.51" y="118.8" width="1.4" height="9.0" fill="#19e08a"/>
<line x1="489.13" y1="116.4" x2="489.13" y2="121.0" stroke="#000" stroke-width="1.1"/>
<rect x="487.63" y="118.0" width="3" height="1.6" fill="#111"/>
<line x1="493.05" y1="118.0" x2="493.05" y2="123.0" stroke="#000" stroke-width="1.1"/>
<rect x="491.55" y="118.6" width="3" height="1.4" fill="#111"/>
<line x1="496.97" y1="110.0" x2="496.97" y2="119.0" stroke="#000" stroke-width="1.1"/>
<rect x="495.37" y="111.0" width="3.2" height="6.6" fill="#161616"/>
<rect x="496.27" y="111.8" width="1.4" height="5.0" fill="#19e08a"/>
<line x1="500.89" y1="111.0" x2="500.89" y2="120.0" stroke="#000" stroke-width="1.1"/>
<rect x="499.29" y="111.6" width="3.2" height="4.4" fill="#161616"/>
<rect x="500.19" y="112.4" width="1.4" height="2.8" fill="#d9143a"/>
<line x1="504.80" y1="109.6" x2="504.80" y2="117.6" stroke="#000" stroke-width="1.1"/>
<rect x="503.20" y="110.4" width="3.2" height="5.6" fill="#161616"/>
<rect x="504.10" y="111.2" width="1.4" height="4.0" fill="#19e08a"/>
<line x1="508.72" y1="104.0" x2="508.72" y2="111.4" stroke="#000" stroke-width="1.1"/>
<rect x="507.12" y="105.0" width="3.2" height="5.4" fill="#161616"/>
<rect x="508.02" y="105.8" width="1.4" height="3.8" fill="#19e08a"/>
<line x1="512.64" y1="104.4" x2="512.64" y2="107.0" stroke="#000" stroke-width="1.1"/>
<rect x="511.14" y="105.0" width="3" height="1.4" fill="#111"/>
<line x1="516.56" y1="98.0" x2="516.56" y2="104.4" stroke="#000" stroke-width="1.1"/>
<rect x="514.96" y="99.0" width="3.2" height="4.6" fill="#161616"/>
<rect x="515.86" y="99.8" width="1.4" height="3.0" fill="#19e08a"/>
<line x1="520.48" y1="95.0" x2="520.48" y2="99.6" stroke="#000" stroke-width="1.1"/>
<rect x="518.88" y="97.0" width="3.2" height="2.4" fill="#161616"/>
<rect x="519.78" y="97.8" width="1.4" height="0.8" fill="#19e08a"/>
</g>
<polyline points="2.5,165.0 10.0,167.2 19.0,169.6 24.0,168.0 30.0,166.4 38.0,166.0 46.0,166.0 54.0,166.4 60.0,167.4 66.0,170.6 72.0,175.0 79.0,179.8 86.0,184.4 93.0,187.6 100.0,190.0 106.0,192.0 112.0,193.6 118.0,194.4 124.0,195.0 130.0,195.2 140.0,195.6 148.0,196.2 154.0,198.2 160.0,201.0 167.0,203.6 174.0,206.0 181.0,209.0 188.0,211.6 194.0,213.2 200.0,214.4 205.0,215.2 210.0,215.6 215.0,215.2 220.0,214.4 227.0,213.6 234.0,213.0 239.0,212.0 244.0,211.0 251.0,209.6 258.0,208.0 264.0,206.8 270.0,205.6 277.0,205.0 284.0,203.6 290.0,201.4 296.0,198.8 300.0,197.0 308.0,193.0 316.0,189.0 323.0,186.4 330.0,184.4 337.0,182.0 344.0,180.0 350.0,177.6 356.0,175.0 364.0,173.4 372.0,172.0 380.0,170.0 388.0,168.0 397.0,165.0 405.0,163.0 413.0,161.0 423.0,159.0 433.0,157.0 443.0,154.8 453.0,152.4 463.0,150.4 473.0,148.6 483.0,146.2 493.0,143.6 501.0,141.0 509.0,138.4 514.0,136.8 519.4,135.0" fill="none" stroke="#0a0aff" stroke-width="1.15" stroke-linejoin="round"/>
<polyline points="2.5,177.4 10.0,180.4 19.0,183.6 25.0,178.0 32.0,172.4 40.0,170.6 48.0,170.6 54.0,171.0 60.0,173.0 64.0,177.0 68.0,182.4 72.0,188.0 76.0,194.0 81.0,200.5 86.0,206.0 92.0,209.4 96.0,211.0 102.0,212.6 108.0,213.4 114.0,212.0 120.0,209.8 126.0,209.0 130.0,208.8 140.0,208.5 148.0,208.4 154.0,210.0 160.0,213.2 166.0,217.0 171.0,220.0 176.0,223.0 181.0,226.4 186.0,229.4 190.0,230.6 194.0,231.0 200.0,230.8 206.0,230.0 210.0,229.2 214.0,228.0 220.0,225.4 226.0,222.4 232.0,218.8 238.0,215.0 244.0,211.0 250.0,207.0 255.0,204.4 260.0,202.6 265.0,201.6 270.0,200.6 277.0,199.6 284.0,197.0 290.0,193.4 296.0,189.4 300.0,186.6 306.0,181.0 312.0,175.0 318.0,171.0 324.0,168.0 330.0,166.2 336.0,165.0 342.0,163.2 348.0,161.0 352.0,159.0 356.0,157.0 362.0,155.8 368.0,155.0 374.0,154.0 380.0,153.0 385.0,152.0 390.0,150.4 397.0,148.0 405.0,145.6 413.0,144.4 421.0,143.6 429.0,141.8 437.0,140.0 445.0,138.8 453.0,138.0 463.0,137.2 473.0,136.6 479.0,135.4 485.0,133.6 491.0,131.0 497.0,128.0 503.0,125.6 509.0,123.6 515.0,120.8 520.4,118.0" fill="none" stroke="#e3264b" stroke-width="1.1" stroke-linejoin="round"/>
<line x1="3.0" y1="63.0" x2="660" y2="63.0" stroke="#0a0aff" stroke-width="1.6" stroke-dasharray="2.8 3.07"/>
<line x1="2.66" y1="117.8" x2="660" y2="117.8" stroke="#0a0aff" stroke-width="1.5" stroke-dasharray="2.8 3.07"/>
<line x1="2.66" y1="157.2" x2="660" y2="157.2" stroke="#0a0aff" stroke-width="1.2" stroke-dasharray="2.8 3.07"/>
<g id="hist" stroke="#2a8a2a" stroke-width="1.2">
<line x1="7.22" y1="403.1" x2="7.22" y2="404.3"/>
<line x1="11.14" y1="403.1" x2="11.14" y2="404.3"/>
<line x1="15.05" y1="403.1" x2="15.05" y2="404.3"/>
<line x1="18.97" y1="403.1" x2="18.97" y2="404.3"/>
<line x1="22.89" y1="403.7" x2="22.89" y2="393.0"/>
<line x1="26.81" y1="403.7" x2="26.81" y2="387.4"/>
<line x1="30.73" y1="403.7" x2="30.73" y2="385.0"/>
<line x1="34.64" y1="403.7" x2="34.64" y2="384.0"/>
<line x1="38.56" y1="403.7" x2="38.56" y2="388.0"/>
<line x1="42.48" y1="403.7" x2="42.48" y2="389.0"/>
<line x1="46.40" y1="403.7" x2="46.40" y2="395.0"/>
<line x1="50.32" y1="403.7" x2="50.32" y2="397.0"/>
<line x1="54.23" y1="403.7" x2="54.23" y2="399.0"/>
<line x1="58.15" y1="403.7" x2="58.15" y2="402.0"/>
<line x1="62.07" y1="403.7" x2="62.07" y2="410.0"/>
<line x1="65.99" y1="403.7" x2="65.99" y2="420.0"/>
<line x1="69.91" y1="403.7" x2="69.91" y2="427.4"/>
<line x1="73.82" y1="403.7" x2="73.82" y2="429.0"/>
<line x1="77.74" y1="403.7" x2="77.74" y2="432.4"/>
<line x1="81.66" y1="403.7" x2="81.66" y2="432.0"/>
<line x1="85.58" y1="403.7" x2="85.58" y2="431.0"/>
<line x1="89.50" y1="403.7" x2="89.50" y2="422.0"/>
<line x1="93.41" y1="403.7" x2="93.41" y2="417.0"/>
<line x1="97.33" y1="403.7" x2="97.33" y2="411.0"/>
<line x1="101.25" y1="403.7" x2="101.25" y2="407.0"/>
<line x1="109.09" y1="403.7" x2="109.09" y2="399.4"/>
<line x1="113.00" y1="403.7" x2="113.00" y2="393.6"/>
<line x1="116.92" y1="403.7" x2="116.92" y2="390.0"/>
<line x1="120.84" y1="403.7" x2="120.84" y2="388.0"/>
<line x1="124.76" y1="403.7" x2="124.76" y2="387.4"/>
<line x1="128.68" y1="403.7" x2="128.68" y2="388.0"/>
<line x1="132.59" y1="403.7" x2="132.59" y2="389.0"/>
<line x1="136.51" y1="403.7" x2="136.51" y2="390.0"/>
<line x1="140.43" y1="403.7" x2="140.43" y2="391.6"/>
<line x1="144.35" y1="403.7" x2="144.35" y2="393.0"/>
<line x1="148.27" y1="403.7" x2="148.27" y2="395.0"/>
<line x1="152.18" y1="403.7" x2="152.18" y2="398.0"/>
<line x1="156.10" y1="403.7" x2="156.10" y2="401.6"/>
<line x1="160.02" y1="403.1" x2="160.02" y2="404.3"/>
<line x1="163.94" y1="403.7" x2="163.94" y2="410.0"/>
<line x1="167.86" y1="403.7" x2="167.86" y2="411.0"/>
<line x1="171.77" y1="403.7" x2="171.77" y2="412.4"/>
<line x1="175.69" y1="403.7" x2="175.69" y2="415.0"/>
<line x1="179.61" y1="403.7" x2="179.61" y2="416.0"/>
<line x1="183.53" y1="403.7" x2="183.53" y2="416.0"/>
<line x1="187.45" y1="403.7" x2="187.45" y2="413.0"/>
<line x1="191.36" y1="403.7" x2="191.36" y2="409.0"/>
<line x1="195.28" y1="403.1" x2="195.28" y2="404.3"/>
<line x1="199.20" y1="403.7" x2="199.20" y2="401.0"/>
<line x1="203.12" y1="403.7" x2="203.12" y2="398.4"/>
<line x1="207.04" y1="403.7" x2="207.04" y2="396.0"/>
<line x1="210.95" y1="403.7" x2="210.95" y2="392.4"/>
<line x1="214.87" y1="403.7" x2="214.87" y2="391.6"/>
<line x1="218.79" y1="403.7" x2="218.79" y2="390.0"/>
<line x1="222.71" y1="403.7" x2="222.71" y2="386.4"/>
<line x1="226.63" y1="403.7" x2="226.63" y2="386.4"/>
<line x1="230.54" y1="403.7" x2="230.54" y2="387.0"/>
<line x1="234.46" y1="403.7" x2="234.46" y2="387.0"/>
<line x1="238.38" y1="403.7" x2="238.38" y2="385.6"/>
<line x1="242.30" y1="403.7" x2="242.30" y2="385.0"/>
<line x1="246.22" y1="403.7" x2="246.22" y2="386.4"/>
<line x1="250.13" y1="403.7" x2="250.13" y2="388.0"/>
<line x1="254.05" y1="403.7" x2="254.05" y2="389.0"/>
<line x1="257.97" y1="403.7" x2="257.97" y2="393.0"/>
<line x1="261.89" y1="403.7" x2="261.89" y2="394.0"/>
<line x1="265.81" y1="403.7" x2="265.81" y2="396.0"/>
<line x1="269.72" y1="403.7" x2="269.72" y2="399.0"/>
<line x1="273.64" y1="403.7" x2="273.64" y2="401.0"/>
<line x1="281.48" y1="403.1" x2="281.48" y2="404.3"/>
<line x1="289.31" y1="403.7" x2="289.31" y2="402.0"/>
<line x1="293.23" y1="403.7" x2="293.23" y2="400.0"/>
<line x1="297.15" y1="403.7" x2="297.15" y2="399.0"/>
<line x1="301.07" y1="403.7" x2="301.07" y2="398.0"/>
<line x1="304.99" y1="403.7" x2="304.99" y2="398.0"/>
<line x1="308.90" y1="403.7" x2="308.90" y2="396.0"/>
<line x1="312.82" y1="403.7" x2="312.82" y2="394.0"/>
<line x1="316.74" y1="403.7" x2="316.74" y2="392.0"/>
<line x1="320.66" y1="403.7" x2="320.66" y2="394.0"/>
<line x1="324.58" y1="403.7" x2="324.58" y2="396.0"/>
<line x1="328.49" y1="403.7" x2="328.49" y2="399.0"/>
<line x1="332.41" y1="403.1" x2="332.41" y2="404.3"/>
<line x1="340.25" y1="403.7" x2="340.25" y2="405.6"/>
<line x1="344.17" y1="403.7" x2="344.17" y2="406.0"/>
<line x1="348.08" y1="403.7" x2="348.08" y2="408.0"/>
<line x1="352.00" y1="403.1" x2="352.00" y2="404.3"/>
<line x1="355.92" y1="403.1" x2="355.92" y2="404.3"/>
<line x1="359.84" y1="403.7" x2="359.84" y2="408.0"/>
<line x1="363.76" y1="403.7" x2="363.76" y2="410.4"/>
<line x1="367.67" y1="403.7" x2="367.67" y2="411.0"/>
<line x1="371.59" y1="403.7" x2="371.59" y2="410.4"/>
<line x1="375.51" y1="403.7" x2="375.51" y2="411.4"/>
<line x1="379.43" y1="403.7" x2="379.43" y2="411.0"/>
<line x1="383.35" y1="403.7" x2="383.35" y2="410.0"/>
<line x1="387.26" y1="403.7" x2="387.26" y2="409.0"/>
<line x1="391.18" y1="403.7" x2="391.18" y2="406.0"/>
<line x1="395.10" y1="403.7" x2="395.10" y2="405.4"/>
<line x1="399.02" y1="403.1" x2="399.02" y2="404.3"/>
<line x1="402.94" y1="403.7" x2="402.94" y2="405.4"/>
<line x1="406.85" y1="403.7" x2="406.85" y2="406.0"/>
<line x1="410.77" y1="403.7" x2="410.77" y2="406.0"/>
<line x1="414.69" y1="403.7" x2="414.69" y2="406.0"/>
<line x1="418.61" y1="403.7" x2="418.61" y2="406.4"/>
<line x1="422.53" y1="403.7" x2="422.53" y2="407.4"/>
<line x1="426.44" y1="403.7" x2="426.44" y2="407.0"/>
<line x1="430.36" y1="403.7" x2="430.36" y2="405.6"/>
<line x1="434.28" y1="403.7" x2="434.28" y2="405.2"/>
<line x1="438.20" y1="403.7" x2="438.20" y2="405.2"/>
<line x1="442.12" y1="403.7" x2="442.12" y2="405.6"/>
<line x1="446.03" y1="403.7" x2="446.03" y2="406.0"/>
<line x1="449.95" y1="403.7" x2="449.95" y2="406.4"/>
<line x1="453.87" y1="403.7" x2="453.87" y2="406.4"/>
<line x1="457.79" y1="403.7" x2="457.79" y2="406.4"/>
<line x1="461.71" y1="403.7" x2="461.71" y2="406.4"/>
<line x1="465.62" y1="403.7" x2="465.62" y2="406.4"/>
<line x1="469.54" y1="403.7" x2="469.54" y2="406.4"/>
<line x1="473.46" y1="403.7" x2="473.46" y2="406.0"/>
<line x1="477.38" y1="403.7" x2="477.38" y2="405.4"/>
<line x1="481.30" y1="403.1" x2="481.30" y2="404.3"/>
<line x1="485.21" y1="403.1" x2="485.21" y2="404.3"/>
<line x1="489.13" y1="403.7" x2="489.13" y2="401.6"/>
<line x1="493.05" y1="403.7" x2="493.05" y2="401.0"/>
<line x1="496.97" y1="403.7" x2="496.97" y2="399.0"/>
<line x1="500.89" y1="403.7" x2="500.89" y2="399.6"/>
<line x1="504.80" y1="403.7" x2="504.80" y2="399.0"/>
<line x1="508.72" y1="403.7" x2="508.72" y2="398.4"/>
<line x1="512.64" y1="403.7" x2="512.64" y2="398.0"/>
<line x1="516.56" y1="403.7" x2="516.56" y2="397.0"/>
<line x1="520.48" y1="403.7" x2="520.48" y2="397.0"/>
</g>
<polyline points="2.5,432.8 10.0,433.4 19.0,434.0 24.0,430.0 30.0,423.0 36.0,415.0 42.0,409.0 50.0,405.0 56.0,402.4 60.0,403.0 64.0,407.0 69.0,415.0 74.0,424.0 80.0,435.0 86.0,445.0 92.0,452.0 98.0,455.0 104.0,455.6 110.0,453.0 116.0,447.0 124.0,439.0 132.0,431.0 140.0,425.0 148.0,419.0 153.0,416.8 156.0,416.0 159.0,416.6 162.0,418.0 166.0,421.0 170.0,423.0 176.0,429.0 180.0,432.6 186.0,436.0 192.0,438.0 198.0,437.6 204.0,435.0 209.0,432.0 214.0,428.6 219.0,424.0 224.0,418.0 230.0,410.0 234.0,407.0 238.0,400.0 244.0,393.6 250.0,387.0 254.0,383.0 258.0,380.0 262.0,378.0 266.0,376.6 270.0,375.6 275.0,374.8 280.0,374.4 285.0,374.2 290.0,373.6 295.0,372.0 300.0,369.6 305.0,367.0 310.0,364.0 315.0,361.0 320.0,358.0 325.0,355.6 329.0,354.0 334.0,354.2 338.0,355.0 342.0,356.0 346.0,357.0 351.0,357.4 356.0,357.6 360.0,359.0 364.0,361.0 368.0,363.2 372.0,365.6 376.0,367.8 380.0,370.0 384.0,371.4 388.0,372.2 394.0,372.6 401.0,373.0 407.0,374.2 413.0,375.6 419.0,377.2 425.0,378.6 431.0,379.4 437.0,380.0 443.0,380.8 449.0,381.6 455.0,382.6 461.0,383.6 465.0,385.0 469.0,386.4 474.0,387.2 479.0,387.6 483.0,387.4 487.0,387.0 491.0,386.2 495.0,385.0 499.0,383.8 503.0,382.4 507.0,381.0 511.0,379.4 515.0,377.6 518.4,376.0" fill="none" stroke="#ff2020" stroke-width="1.1" stroke-dasharray="3 2.6"/>
<polyline points="2.5,432.2 10.0,433.4 19.0,435.0 20.0,430.0 23.0,419.0 27.0,408.0 31.0,400.0 35.0,396.4 38.0,396.4 42.0,393.6 46.0,395.0 50.0,397.0 54.0,398.4 58.0,400.0 60.0,404.0 62.0,411.0 64.0,419.0 66.0,427.0 68.0,435.0 72.0,444.0 76.0,456.0 80.0,465.0 83.0,469.0 85.6,472.0 88.0,470.0 90.0,468.4 94.0,466.0 97.0,463.0 100.0,460.0 104.0,456.0 109.0,446.0 113.0,437.0 118.0,429.0 125.0,421.0 130.0,417.0 138.0,411.6 143.0,410.2 148.0,409.6 152.0,411.4 156.0,416.0 160.0,421.6 163.0,427.0 167.0,430.0 170.0,432.0 176.0,439.4 180.0,443.6 184.0,447.4 187.0,446.4 190.0,444.0 194.0,440.6 198.0,437.0 202.0,431.6 206.0,427.0 210.0,421.0 214.0,415.0 218.0,409.0 221.0,404.6 224.0,400.0 230.0,393.0 236.0,385.0 242.0,377.0 248.0,372.0 254.0,369.6 258.0,368.4 262.0,368.0 266.0,368.0 272.0,370.4 277.0,373.0 281.0,375.0 286.0,373.0 290.0,370.4 294.0,367.6 299.0,364.6 304.0,361.6 310.0,356.0 314.0,352.0 317.0,348.4 321.0,348.2 326.0,348.4 329.0,350.6 332.0,353.0 336.0,355.4 340.0,357.6 344.0,359.6 348.0,361.6 350.0,360.2 352.0,359.0 356.0,359.4 359.0,362.4 362.0,366.0 365.0,368.6 368.0,371.0 371.0,372.2 374.0,373.0 380.0,376.0 383.0,377.0 386.0,378.0 389.5,376.6 393.0,375.4 401.0,375.4 405.0,376.8 409.0,378.0 417.0,379.6 420.0,381.0 423.0,382.4 431.0,382.4 435.0,381.0 439.0,382.0 443.0,383.0 449.0,385.0 455.0,385.6 459.0,386.6 463.0,387.6 469.0,389.2 481.0,389.2 485.0,386.4 491.0,383.0 497.0,379.4 501.0,379.0 504.0,377.0 507.0,375.0 513.0,372.4 516.0,370.4 519.4,368.0" fill="none" stroke="#1c1cff" stroke-width="1.15" stroke-linejoin="round"/>
<polygon points="6,46 12.6,46 9.3,50.6" fill="#000"/>
<text class="ax" x="18" y="51.2">CrudeOIL,H4</text>
<text class="ax dt" x="7.5" y="353.6">MACD(12,26,9) 1.3045 1.0323 0.2721</text>
<text class="ax pr" x="666" y="70.7">34.525</text>
<text class="ax pr" x="666" y="104.2">30.275</text>
<text class="ax pr" x="666" y="137.8">26.025</text>
<text class="ax pr" x="666" y="171.4">21.775</text>
<text class="ax pr" x="666" y="204.9">17.525</text>
<text class="ax pr" x="666" y="238.4">13.275</text>
<text class="ax pr" x="666" y="272.0">9.025</text>
<text class="ax pr" x="666" y="305.4">4.775</text>
<text class="ax pr" x="666" y="338.9">0.525</text>
<text class="ax pr" x="664.5" y="351.0">2.255</text>
<text class="ax pr" x="664.5" y="407.1">0.00</text>
<text class="ax pr" x="664.5" y="475.7">-2.7337</text>
<rect x="662" y="56" width="35" height="11" fill="#0000ff" shape-rendering="crispEdges"/>
<text class="lb pr" x="666" y="65.2">35.032</text>
<rect x="662" y="92" width="35" height="11" fill="#000" shape-rendering="crispEdges"/>
<text class="lb pr" x="666" y="101.2">30.665</text>
<rect x="662" y="111" width="35" height="11" fill="#0000ff" shape-rendering="crispEdges"/>
<text class="lb pr" x="666" y="120.2">28.147</text>
<rect x="662" y="151" width="35" height="11" fill="#0000ff" shape-rendering="crispEdges"/>
<text class="lb pr" x="666" y="160.2">23.082</text>
<text class="ax dt" x="2.3" y="491.6">17 Apr 2020</text>
<text class="ax dt" x="65.1" y="491.6">21 Apr 12:00</text>
<text class="ax dt" x="127.9" y="491.6">24 Apr 04:00</text>
<text class="ax dt" x="190.7" y="491.6">28 Apr 16:00</text>
<text class="ax dt" x="253.5" y="491.6">1 May 08:00</text>
<text class="ax dt" x="316.3" y="491.6">5 May 20:00</text>
<text class="ax dt" x="379.1" y="491.6">8 May 12:00</text>
<text class="ax dt" x="441.9" y="491.6">12 May 20:00</text>
<text class="ax dt" x="504.7" y="491.6">15 May 12:00</text>
</svg></body></html>
